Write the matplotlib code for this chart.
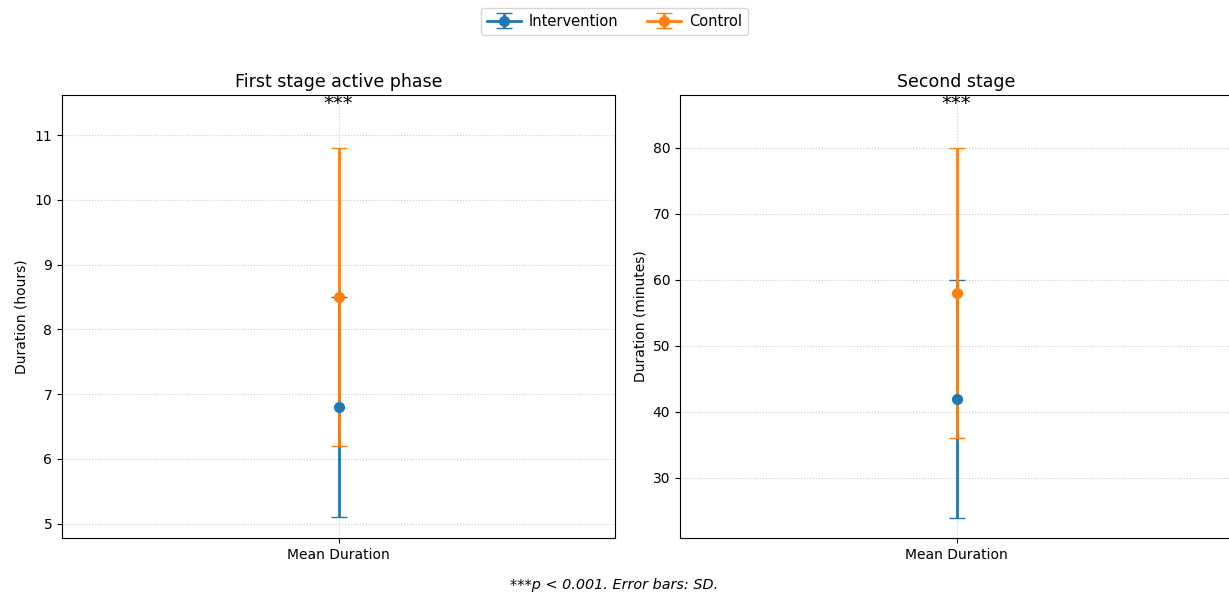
import numpy as np
import matplotlib.pyplot as plt

groups = ['Intervention', 'Control']
colors = ['#1f77b4', '#ff7f0e']

titles = ['First stage active phase', 'Second stage']
ylabels = ['Duration (hours)', 'Duration (minutes)']
means = [[6.8, 8.5], [42, 58]]
sds = [[1.7, 2.3], [18, 22]]
ylims = [(4.78, 11.62), (20.9, 88.0)]
yticks = [[5, 6, 7, 8, 9, 10, 11], [30, 40, 50, 60, 70, 80]]

fig = plt.figure(figsize=(12.29, 5.96), dpi=100)
W, H = 1229, 596
axes = [fig.add_axes([62 / W, 1 - 538 / H, 553 / W, 443 / H]),
        fig.add_axes([680 / W, 1 - 538 / H, 553 / W, 443 / H])]

for i, ax in enumerate(axes):
    for g in range(2):
        ax.errorbar([0], [means[i][g]], yerr=[sds[i][g]], fmt='o-', color=colors[g],
                    capsize=6, linewidth=2, markersize=7, label=groups[g])
    ax.set_xlim(-0.5, 0.5)
    ax.set_xticks([0])
    ax.set_xticklabels(['Mean Duration'], fontsize=10)
    ax.set_ylim(*ylims[i])
    ax.set_yticks(yticks[i])
    ax.tick_params(labelsize=10)
    ax.set_ylabel(ylabels[i], fontsize=10)
    ax.set_title(titles[i], fontsize=12.5)
    ax.grid(True, linestyle=':', color='#cccccc', linewidth=0.8)
    ax.text(0, 1.002, '***', transform=ax.get_xaxis_transform(), ha='center', va='top', fontsize=14)

handles, labels = axes[0].get_legend_handles_labels()
fig.legend(handles, labels, loc='upper center', ncol=2, bbox_to_anchor=(0.5, 0.999), fontsize=10.5,
           handlelength=2.3, handletextpad=0.55)
fig.text(0.5, 1 - 585 / H, '***p < 0.001. Error bars: SD.', ha='center', va='center',
         fontsize=10.4, style='italic')

fig.savefig('out.png', dpi=100)
